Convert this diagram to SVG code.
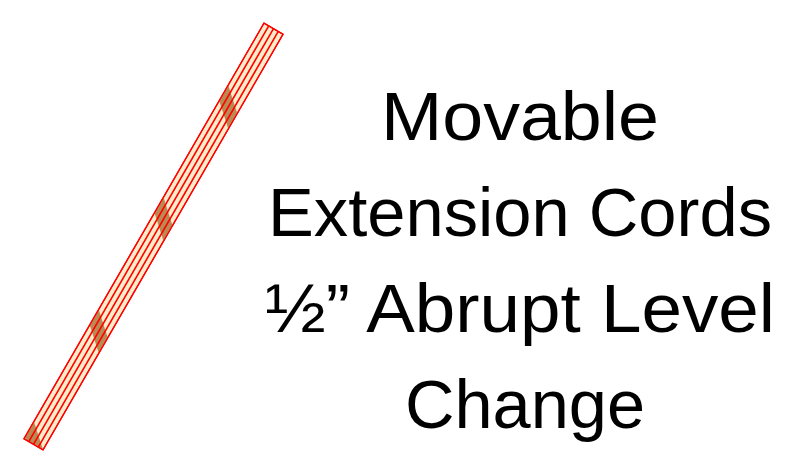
<svg xmlns="http://www.w3.org/2000/svg" width="796" height="453" viewBox="0 0 796 453">
<style>
.cord{fill:#fdecca;stroke:#ff0000;stroke-width:1.3}
.wire{stroke:#ff0000;stroke-width:1.6;fill:none}
.tape{fill:#b98a52}
.lbl{font-family:"Liberation Sans",Arial,sans-serif;font-size:68px;fill:#000;text-anchor:middle}
</style>
<defs>
<clipPath id="cordClip"><rect x="-11" y="-240" width="22" height="480"/></clipPath>
</defs>
<rect width="796" height="453" fill="#ffffff"/>
<g id="cord" transform="translate(153.5 236.5) rotate(30)">
<rect class="cord" x="-11" y="-240" width="22" height="480"/>
<g clip-path="url(#cordClip)">
<polygon class="tape" points="-11,-168.5 11,-148.5 11,-130.5 -11,-150.5"/>
<polygon class="tape" points="-11,-39 11,-19 11,-1 -11,-21"/>
<polygon class="tape" points="-11,90.5 11,110.5 11,128.5 -11,108.5"/>
<polygon class="tape" points="-11,220 11,240 11,258 -11,238"/>
</g>
<line class="wire" x1="-5.5" y1="-240" x2="-5.5" y2="240"/>
<line class="wire" x1="0" y1="-240" x2="0" y2="240"/>
<line class="wire" x1="5.5" y1="-240" x2="5.5" y2="240"/>
<rect x="-11" y="-240" width="22" height="480" fill="none" stroke="#ff0000" stroke-width="1.3"/>
</g>
<g id="title">
<text class="lbl" x="520" y="139.5" textLength="278" lengthAdjust="spacingAndGlyphs">Movable</text>
<text class="lbl" x="520" y="235.5" textLength="504" lengthAdjust="spacingAndGlyphs">Extension Cords</text>
<text class="lbl" x="520" y="331.5" textLength="510" lengthAdjust="spacingAndGlyphs">½” Abrupt Level</text>
<text class="lbl" x="525" y="427.5" textLength="240" lengthAdjust="spacingAndGlyphs">Change</text>
</g>
</svg>
